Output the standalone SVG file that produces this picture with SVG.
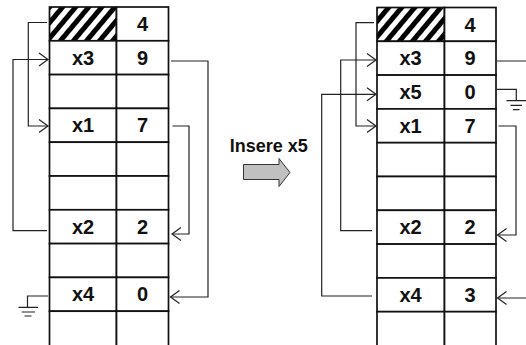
<svg xmlns="http://www.w3.org/2000/svg" width="526" height="345" viewBox="0 0 526 345">
<style>
.cell{fill:#fff;stroke:#111;stroke-width:1.7}
.t{font-family:"Liberation Sans",Arial,sans-serif;font-weight:bold;font-size:20px;fill:#111;text-anchor:middle}
.cap{font-family:"Liberation Sans",Arial,sans-serif;font-weight:bold;font-size:18px;fill:#111;text-anchor:middle}
.w{fill:none;stroke:#222;stroke-width:1.2}
.a{fill:none;stroke:#222;stroke-width:1.2;marker-end:url(#arr)}
</style>
<defs>
<pattern id="hatch" patternUnits="userSpaceOnUse" width="10" height="10" patternTransform="rotate(40)">
<rect width="10" height="10" fill="#fff"/>
<rect width="5" height="10" fill="#000"/>
</pattern>
<marker id="arr" markerUnits="userSpaceOnUse" markerWidth="12" markerHeight="16" viewBox="0 0 12 16" refX="10" refY="8" orient="auto">
<path d="M1,1.5 L10,8 L1,14.5" fill="none" stroke="#222" stroke-width="1.2"/>
</marker>
</defs>

<g id="left-table">
<g id="L0"><rect class="cell" x="49.5" y="7" width="67" height="33.8" style="fill:url(#hatch)"/><rect class="cell" x="116.5" y="7" width="52" height="33.8"/><text class="t" x="142.5" y="31">4</text></g>
<g id="L1"><rect class="cell" x="49.5" y="40.8" width="67" height="33.8"/><rect class="cell" x="116.5" y="40.8" width="52" height="33.8"/><text class="t" x="83" y="64.8">x3</text><text class="t" x="142.5" y="64.8">9</text></g>
<g id="L2"><rect class="cell" x="49.5" y="74.6" width="67" height="33.8"/><rect class="cell" x="116.5" y="74.6" width="52" height="33.8"/></g>
<g id="L3"><rect class="cell" x="49.5" y="108.4" width="67" height="33.8"/><rect class="cell" x="116.5" y="108.4" width="52" height="33.8"/><text class="t" x="83" y="132.3">x1</text><text class="t" x="142.5" y="132.3">7</text></g>
<g id="L4"><rect class="cell" x="49.5" y="142.2" width="67" height="33.8"/><rect class="cell" x="116.5" y="142.2" width="52" height="33.8"/></g>
<g id="L5"><rect class="cell" x="49.5" y="176" width="67" height="33.8"/><rect class="cell" x="116.5" y="176" width="52" height="33.8"/></g>
<g id="L6"><rect class="cell" x="49.5" y="209.8" width="67" height="33.8"/><rect class="cell" x="116.5" y="209.8" width="52" height="33.8"/><text class="t" x="83" y="233.7">x2</text><text class="t" x="142.5" y="233.7">2</text></g>
<g id="L7"><rect class="cell" x="49.5" y="243.6" width="67" height="33.8"/><rect class="cell" x="116.5" y="243.6" width="52" height="33.8"/></g>
<g id="L8"><rect class="cell" x="49.5" y="277.4" width="67" height="33.8"/><rect class="cell" x="116.5" y="277.4" width="52" height="33.8"/><text class="t" x="83" y="301.3">x4</text><text class="t" x="142.5" y="301.3">0</text></g>
<g id="L9"><rect class="cell" x="49.5" y="311.2" width="67" height="40"/><rect class="cell" x="116.5" y="311.2" width="52" height="40"/></g>
</g>

<g id="right-table">
<g id="R0"><rect class="cell" x="377" y="7.5" width="67.5" height="33.8" style="fill:url(#hatch)"/><rect class="cell" x="444.5" y="7.5" width="51.5" height="33.8"/><text class="t" x="470" y="31.5">4</text></g>
<g id="R1"><rect class="cell" x="377" y="41.3" width="67.5" height="33.8"/><rect class="cell" x="444.5" y="41.3" width="51.5" height="33.8"/><text class="t" x="410.5" y="65.3">x3</text><text class="t" x="470" y="65.3">9</text></g>
<g id="R2"><rect class="cell" x="377" y="75.1" width="67.5" height="33.8"/><rect class="cell" x="444.5" y="75.1" width="51.5" height="33.8"/><text class="t" x="410.5" y="99">x5</text><text class="t" x="470" y="99">0</text></g>
<g id="R3"><rect class="cell" x="377" y="108.9" width="67.5" height="33.8"/><rect class="cell" x="444.5" y="108.9" width="51.5" height="33.8"/><text class="t" x="410.5" y="132.8">x1</text><text class="t" x="470" y="132.8">7</text></g>
<g id="R4"><rect class="cell" x="377" y="142.7" width="67.5" height="33.8"/><rect class="cell" x="444.5" y="142.7" width="51.5" height="33.8"/></g>
<g id="R5"><rect class="cell" x="377" y="176.5" width="67.5" height="33.8"/><rect class="cell" x="444.5" y="176.5" width="51.5" height="33.8"/></g>
<g id="R6"><rect class="cell" x="377" y="210.3" width="67.5" height="33.8"/><rect class="cell" x="444.5" y="210.3" width="51.5" height="33.8"/><text class="t" x="410.5" y="234.2">x2</text><text class="t" x="470" y="234.2">2</text></g>
<g id="R7"><rect class="cell" x="377" y="244.1" width="67.5" height="33.8"/><rect class="cell" x="444.5" y="244.1" width="51.5" height="33.8"/></g>
<g id="R8"><rect class="cell" x="377" y="277.9" width="67.5" height="33.8"/><rect class="cell" x="444.5" y="277.9" width="51.5" height="33.8"/><text class="t" x="410.5" y="301.8">x4</text><text class="t" x="470" y="301.8">3</text></g>
<g id="R9"><rect class="cell" x="377" y="311.7" width="67.5" height="40"/><rect class="cell" x="444.5" y="311.7" width="51.5" height="40"/></g>
</g>

<g id="caption">
<text class="cap" x="268.8" y="151.5">Insere x5</text>
<polygon points="243.5,164.5 279,164.5 279,158.5 290,172.5 279,186.5 279,179.5 243.5,179.5" fill="#c0c0c0" stroke="#333" stroke-width="1"/>
</g>

<g id="connectors">
<path class="a" d="M47,22.5 H28.3 V126 H48"/>
<path class="a" d="M47,230.7 H13 V59.5 H48"/>
<path class="a" d="M171,61 H208 V297 H170.5"/>
<path class="a" d="M172.5,126 H189 V234 H172"/>
<path class="w" d="M48,296 H27.5 V307.3 M18.5,307.3 H38 M21.7,312 H35 M24.5,316 H31.5"/>

<path class="a" d="M374,22.7 H356 V126 H376"/>
<path class="a" d="M372,230.7 H340.7 V60 H376"/>
<path class="a" d="M372,296 H321.7 V94.3 H376"/>
<path class="w" d="M497,61 H530"/>
<path class="a" d="M530,298 H497.5"/>
<path class="a" d="M498.5,126 H516 V235 H497.5"/>
<path class="w" d="M497,89.3 H516.3 V100.7 M506.5,100.7 H526 M510.5,105.4 H522 M513,109.7 H519.5"/>
</g>
</svg>
